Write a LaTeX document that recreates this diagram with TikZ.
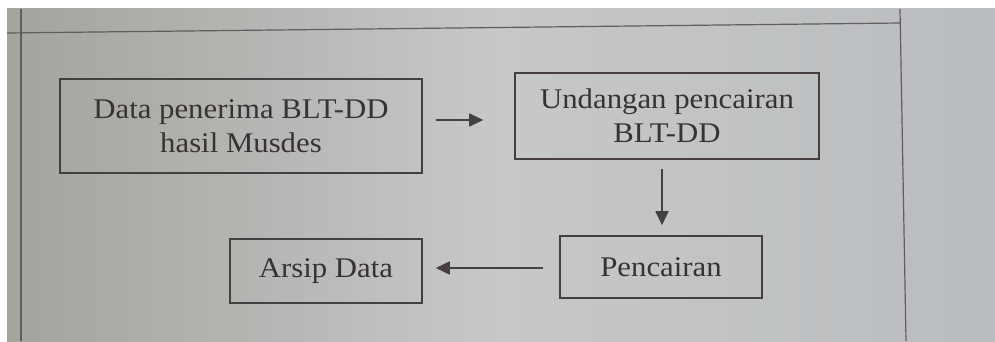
\documentclass[tikz,border=0pt]{standalone}
\usepackage{fontspec}
\setmainfont{Liberation Serif}[FakeStretch=1.08]
\usetikzlibrary{arrows.meta,shapes.misc}
\definecolor{ink}{HTML}{463F3F}
\definecolor{paperL}{HTML}{A3A49E}
\definecolor{paperM}{HTML}{C7C8C8}
\definecolor{paperR}{HTML}{B9BCBF}
\tikzset{
  box/.style={draw=ink, line width=1.6pt, rectangle, align=center, text=ink!80!black, font=\fontsize{28.5}{34}\selectfont, inner sep=0pt},
  arr/.style={draw=ink, line width=1.8pt, -{Triangle[length=14pt,width=13pt]}},
  frame/.style={draw=ink!85, line width=1.2pt}
}
\begin{document}
\begin{tikzpicture}[x=1pt,y=-1pt]
\useasboundingbox (0,0) rectangle (995,342);
\fill[white] (0,0) rectangle (995,342);
\shade[left color=paperL, right color=paperR, middle color=paperM] (7,9) rectangle (995,341);
% frame lines
\draw[frame] (7,33) -- (901,23);
\draw[frame] (21,9) -- (21,341);
\draw[frame] (900,9) -- (906,341);
% boxes
\node[box, minimum width=362pt, minimum height=94pt] (b1) at (241,126) {Data penerima BLT-DD\\hasil Musdes};
\node[box, minimum width=304pt, minimum height=86pt] (b2) at (667,116) {Undangan pencairan\\BLT-DD};
\node[box, minimum width=202pt, minimum height=62pt] (b3) at (661,267) {Pencairan};
\node[box, minimum width=192pt, minimum height=64pt] (b4) at (326,271) {Arsip Data};
% connectors
\draw[arr] ([xshift=13pt,yshift=6pt]b1.east) -- ([xshift=-31pt,yshift=-4pt]b2.west);
\draw[arr] ([xshift=-5pt,yshift=-9pt]b2.south) -- ([xshift=1pt,yshift=10pt]b3.north);
\draw[arr] ([xshift=-16pt,yshift=-1pt]b3.west) -- ([xshift=13pt,yshift=3pt]b4.east);
\end{tikzpicture}
\end{document}
